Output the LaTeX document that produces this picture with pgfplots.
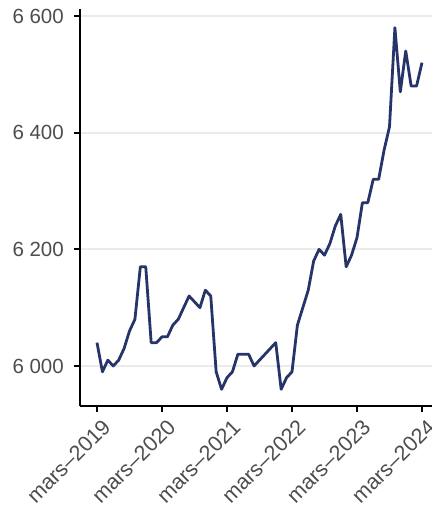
\documentclass[border=0pt]{standalone}
\usepackage{fontspec}
\setmainfont{Liberation Sans}
\usepackage{pgfplots}
\pgfplotsset{compat=1.18}
\definecolor{navy}{HTML}{263469}
\definecolor{gridc}{HTML}{EBEBEB}
\definecolor{txt}{HTML}{4D4D4D}
\begin{document}
\begin{tikzpicture}
\begin{axis}[
  at={(80bp,102bp)}, anchor=south west,
  scale only axis, width=352bp, height=396.7bp,
  xmin=-3.14, xmax=61.85, ymin=5931.4, ymax=6611.5,
  axis x line*=bottom, axis y line*=left,
  x axis line style={-, line width=2bp, black},
  y axis line style={-, line width=2bp, black},
  xtick={0,12,24,36,48,60},
  xticklabels={mars–2019,mars–2020,mars–2021,mars–2022,mars–2023,mars–2024},
  ytick={6000,6200,6400,6600},
  yticklabels={6 000,6 200,6 400,6 600},
  tick align=outside, major tick length=6bp,
  tick style={black, line width=2bp},
  xtick pos=bottom, ytick pos=left,
  ymajorgrids, grid style={gridc, line width=2bp},
  yticklabel style={font=\fontsize{20.5bp}{23bp}\selectfont, text=txt, anchor=east, inner sep=0pt, xshift=-10bp},
  xticklabel style={font=\fontsize{21.5bp}{24bp}\selectfont, text=txt, xshift=4.2bp, yshift=-5.7bp, rotate=45, anchor=north east, inner sep=0pt},
]
\addplot[navy, line width=2.8bp, line join=round] coordinates {
(0,6040)(1,5990)(2,6010)(3,6000)(4,6010)(5,6030)(6,6060)(7,6080)(8,6170)(9,6170)
(10,6040)(11,6040)(12,6050)(13,6050)(14,6070)(15,6080)(16,6100)(17,6120)(18,6110)(19,6100)
(20,6130)(21,6120)(22,5990)(23,5960)(24,5980)(25,5990)(26,6020)(27,6020)(28,6020)(29,6000)
(30,6010)(31,6020)(32,6030)(33,6040)(34,5960)(35,5980)(36,5990)(37,6070)(38,6100)(39,6130)
(40,6180)(41,6200)(42,6190)(43,6210)(44,6240)(45,6260)(46,6170)(47,6190)(48,6220)(49,6280)
(50,6280)(51,6320)(52,6320)(53,6370)(54,6410)(55,6580)(56,6470)(57,6540)(58,6480)(59,6480)
(60,6520)
};
\end{axis}
\pgfresetboundingbox
\useasboundingbox (0,0) rectangle (432bp,508bp);
\end{tikzpicture}
\end{document}
